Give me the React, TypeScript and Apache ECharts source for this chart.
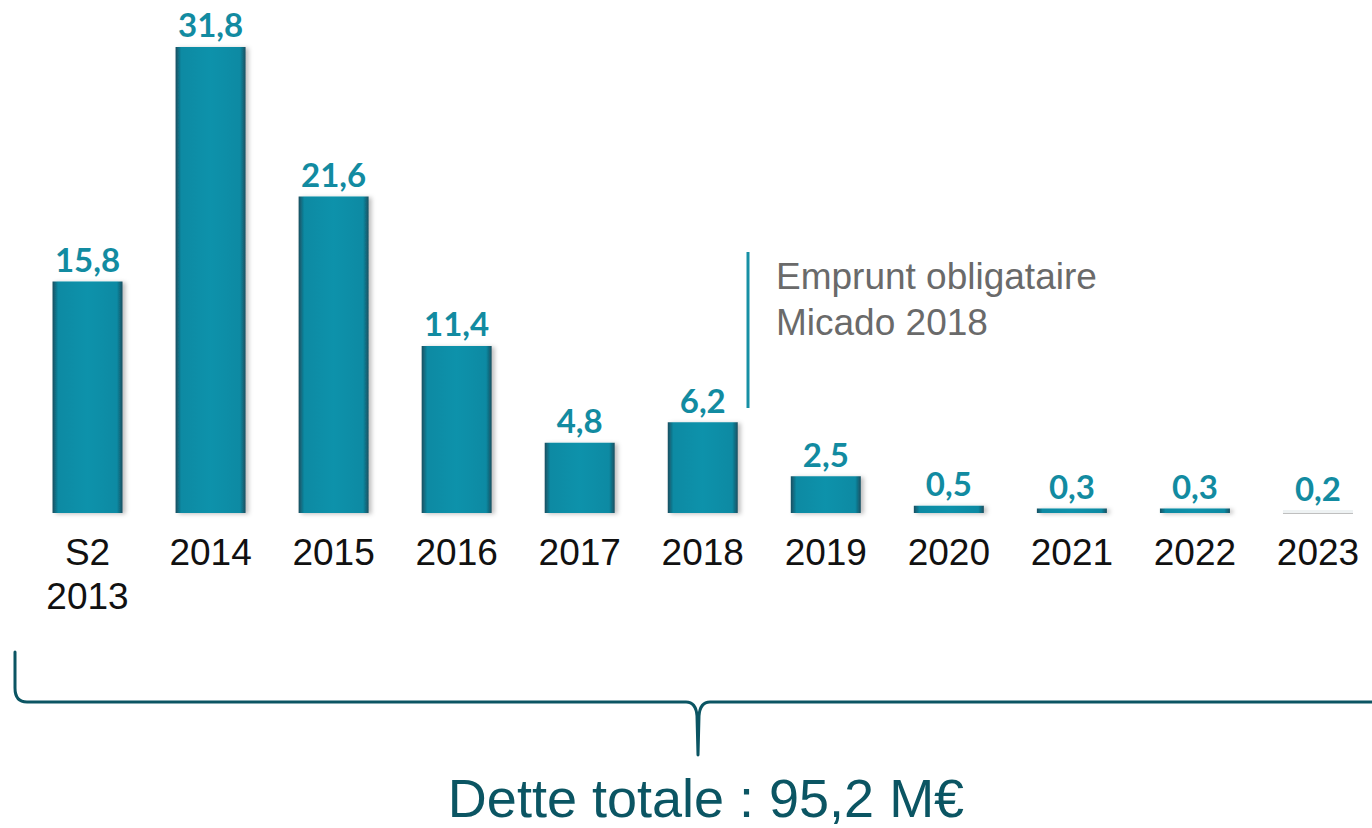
import React, { useEffect, useRef } from "react";
import * as echarts from "echarts";

const categories = ["S2\n2013", "2014", "2015", "2016", "2017", "2018", "2019", "2020", "2021", "2022", "2023"];
const debtValues = [15.8, 31.8, 21.6, 11.4, 4.8, 6.2, 2.5, 0.5, 0.3, 0.3, 0.2];
const annotationLines = ["Emprunt obligataire", "Micado 2018"];
const totalLabel = "Dette totale : 95,2 M€";

const BRACE_D =
  "M 15 652 L 15 688 Q 15 702 27 702 L 686 702 Q 696 702 697 716 L 698 755 L 699 716 Q 700 702 710 702 L 1372 702";

echarts.graphic.registerShape("brace", echarts.graphic.extendPath(BRACE_D, {}));

export default function App() {
  const ref = useRef<HTMLDivElement>(null);
  useEffect(() => {
    if (!ref.current) return;
    const chart = echarts.init(ref.current, null, { renderer: "svg" });
    const barGradient = new echarts.graphic.LinearGradient(0, 0, 1, 0, [
      { offset: 0, color: "#1a4f60" },
      { offset: 0.08, color: "#0a8aa3" },
      { offset: 0.5, color: "#0b92ab" },
      { offset: 0.92, color: "#0a8aa3" },
      { offset: 1, color: "#1a4f60" },
    ]);
    const lastIndex = debtValues.length - 1;
    chart.setOption({
      animation: false,
      backgroundColor: "#ffffff",
      grid: { left: 26, right: 20.5, top: 0, bottom: 315, containLabel: false },
      xAxis: {
        type: "category",
        data: categories,
        axisLine: { show: false },
        axisTick: { show: false },
        axisLabel: {
          color: "#111111",
          fontFamily: "Liberation Sans, Arial, sans-serif",
          fontSize: 37,
          lineHeight: 44,
          margin: 17,
          interval: 0,
        },
      },
      yAxis: {
        type: "value",
        min: 0,
        max: 35,
        show: false,
        splitLine: { show: false },
      },
      series: [
        {
          type: "bar",
          barWidth: 70,
          data: debtValues.map((v, i) =>
            i === lastIndex
              ? { value: v, itemStyle: { color: "#eef2f3", shadowBlur: 0, shadowOffsetX: 0 } }
              : v
          ),
          itemStyle: {
            color: barGradient,
            shadowColor: "rgba(0,0,0,0.25)",
            shadowBlur: 4,
            shadowOffsetX: 3,
            shadowOffsetY: 1,
          },
          label: {
            show: true,
            position: "top",
            distance: 6,
            color: "#128ba1",
            fontFamily: "Lato, sans-serif",
            fontWeight: "bold",
            fontSize: 33,
            formatter: (p: any) => Number(p.value).toFixed(1).replace(".", ","),
          },
        },
      ],
      graphic: [
        {
          type: "line",
          shape: { x1: 748, y1: 252, x2: 748, y2: 408 },
          style: { stroke: "#1790a5", lineWidth: 3 },
        },
        {
          type: "text",
          left: 776,
          top: 253,
          style: {
            text: annotationLines.join("\n"),
            font: '37px "Liberation Sans", Arial, sans-serif',
            lineHeight: 46,
            fill: "#6a6a6a",
          },
        },
        {
          type: "brace",
          x: 0,
          y: 0,
          style: { fill: "none", stroke: "#0b5563", lineWidth: 3, lineJoin: "round", lineCap: "round" },
        },
        {
          type: "text",
          x: 706,
          y: 798,
          style: {
            text: totalLabel,
            font: '54px "Liberation Sans", Arial, sans-serif',
            lineHeight: 54,
            fill: "#0b5563",
            textAlign: "center",
            textVerticalAlign: "middle",
          },
        },
      ],
    });
    return () => chart.dispose();
  }, []);
  return (
    <div
      style={{ position: "fixed", left: 0, top: 0, width: 1372, height: 828, overflow: "hidden" }}
    >
      <div ref={ref} style={{ width: 1400, height: 828 }} />
    </div>
  );
}
